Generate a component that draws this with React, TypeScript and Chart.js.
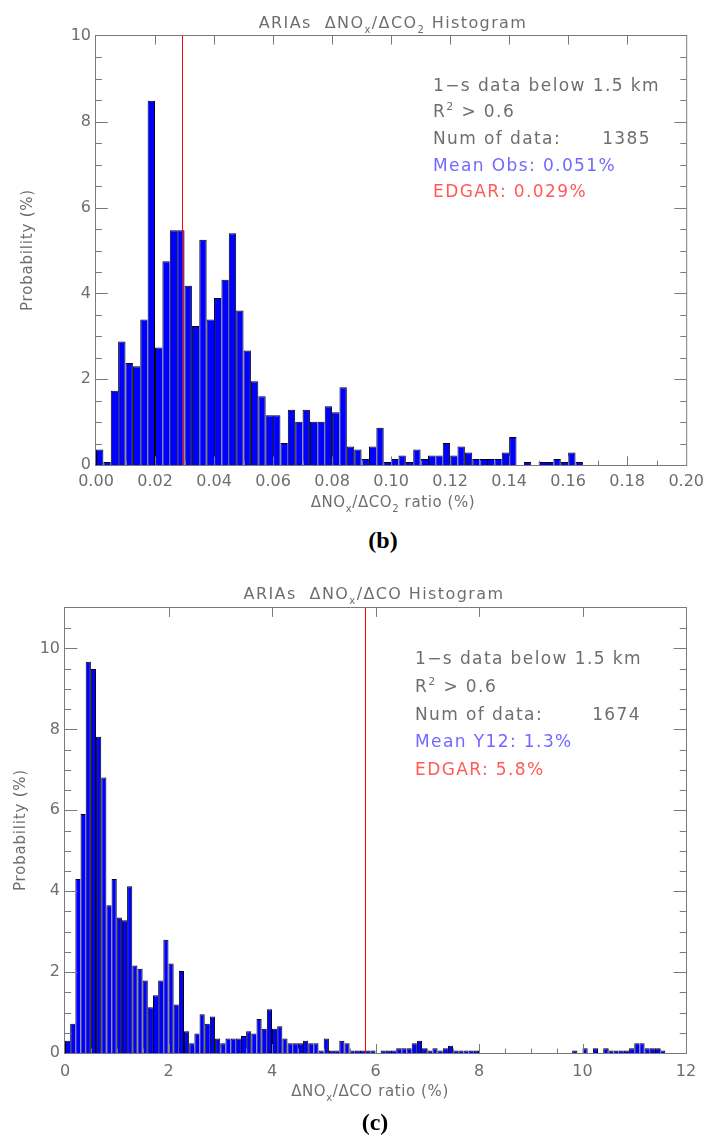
import React, { useEffect, useRef } from 'react';
import { Chart, registerables } from 'chart.js';

Chart.register(...registerables);

// ---------------- Panel (b): ΔNOx/ΔCO2 histogram ----------------
const binWidthCO2 = 0.0025; // ratio (%) per bin
const probabilityCO2 = [
  0.36, 0.07, 1.73, 2.88, 2.38, 2.3, 3.39, 8.49, 2.74, 4.75,
  5.47, 5.47, 4.18, 3.24, 5.25, 3.39, 3.89, 4.32, 5.4, 3.6,
  2.67, 1.95, 1.6, 1.16, 1.16, 0.51, 1.29, 1.01, 1.29, 1.01,
  1.01, 1.37, 1.23, 1.81, 0.43, 0.36, 0.14, 0.43, 0.87, 0.07,
  0.14, 0.22, 0.07, 0.36, 0.14, 0.22, 0.22, 0.51, 0.22, 0.43,
  0.29, 0.14, 0.14, 0.14, 0.14, 0.29, 0.65, 0, 0.07, 0,
  0.07, 0.07, 0.14, 0.07, 0.29, 0.07, 0, 0, 0, 0,
  0, 0, 0, 0, 0, 0, 0, 0, 0, 0,
];
const xTickValuesCO2 = [0, 0.02, 0.04, 0.06, 0.08, 0.1, 0.12, 0.14, 0.16, 0.18, 0.2];
const xTickLabelsCO2 = ['0.00', '0.02', '0.04', '0.06', '0.08', '0.10', '0.12', '0.14', '0.16', '0.18', '0.20'];
const yTickValuesCO2 = [0, 2, 4, 6, 8, 10];
const yTickLabelsCO2 = ['0', '2', '4', '6', '8', '10'];
const edgarCO2 = 0.029;
const statsCO2 = ['1\u2212s data below 1.5 km', 'R|2| > 0.6', 'Num of data:', '1385', 'Mean Obs: 0.051%', 'EDGAR: 0.029%'];

// ---------------- Panel (c): ΔNOx/ΔCO histogram ----------------
const binWidthCO = 0.1; // ratio (%) per bin
const probabilityCO = [
  0.3, 0.72, 4.3, 5.91, 9.67, 9.49, 7.82, 6.81, 3.65, 4.3,
  3.35, 3.28, 4.12, 2.16, 2.08, 1.79, 1.13, 1.43, 1.79, 2.8,
  2.21, 1.2, 2.03, 0.54, 0.24, 0.48, 0.96, 0.72, 0.9, 0.36,
  0.24, 0.36, 0.36, 0.36, 0.42, 0.54, 0.48, 0.84, 0.6, 1.08,
  0.6, 0.66, 0.36, 0.24, 0.24, 0.24, 0.3, 0.24, 0.24, 0.06,
  0.36, 0.06, 0.06, 0.3, 0.24, 0.06, 0.06, 0.06, 0.06, 0.06,
  0, 0.06, 0.06, 0.06, 0.12, 0.12, 0.12, 0.24, 0.3, 0.12,
  0.06, 0.12, 0.06, 0.12, 0.18, 0.06, 0.06, 0.06, 0.06, 0.06,
  0, 0, 0, 0, 0, 0, 0, 0, 0, 0,
  0, 0, 0, 0, 0, 0, 0, 0, 0.06, 0,
  0.12, 0, 0.12, 0, 0.12, 0.06, 0.06, 0.06, 0.06, 0.12,
  0.24, 0.24, 0.12, 0.12, 0.12, 0.06, 0, 0, 0, 0,
];
const xTickValuesCO = [0, 2, 4, 6, 8, 10, 12];
const xTickLabelsCO = ['0', '2', '4', '6', '8', '10', '12'];
const yTickValuesCO = [0, 2, 4, 6, 8, 10];
const yTickLabelsCO = ['0', '2', '4', '6', '8', '10'];
const edgarCO = 5.8;
const statsCO = ['1\u2212s data below 1.5 km', 'R|2| > 0.6', 'Num of data:', '1674', 'Mean Y12: 1.3%', 'EDGAR: 5.8%'];

// ---------------- styles ----------------
const FONT = '"DejaVu Sans", sans-serif';
const TEXT = '#6e6e6e';
const AXIS = '#7a7a7a';
const BLUE_TXT = '#7468ff';
const RED_TXT = '#ff5a5a';

type Seg = { t: string; s?: 'sub' | 'sup' };

function drawRich(ctx: CanvasRenderingContext2D, segs: Seg[], x: number, y: number, size: number,
  align: 'left' | 'center' | 'right', color: string, spacing = 0) {
  ctx.save();
  ctx.fillStyle = color;
  ctx.textAlign = 'left';
  (ctx as any).letterSpacing = spacing + 'px';
  const fontFor = (sg: Seg) => `${sg.s ? Math.round(size * 0.65) : size}px ${FONT}`;
  const widths = segs.map((sg) => { ctx.font = fontFor(sg); return ctx.measureText(sg.t).width; });
  const total = widths.reduce((a, b) => a + b, 0);
  let cx = align === 'left' ? x : align === 'center' ? x - total / 2 : x - total;
  segs.forEach((sg, i) => {
    ctx.font = fontFor(sg);
    const dy = sg.s === 'sub' ? size * 0.3 : sg.s === 'sup' ? -size * 0.4 : 0;
    ctx.fillText(sg.t, cx, y + dy);
    cx += widths[i];
  });
  ctx.restore();
}

// "R|2| > 0.6" -> superscript segments
function parseSup(s: string): Seg[] {
  const parts = s.split('|');
  return parts.map((t, i) => ({ t, s: i % 2 === 1 ? 'sup' : undefined } as Seg));
}

const decoPlugin = {
  id: 'deco',
  afterDatasetsDraw(chart: any, _args: any, o: any) {
    // EDGAR reference line, positioned by the x scale
    const { ctx, chartArea: a, scales } = chart;
    const px = Math.round(scales.x.getPixelForValue(o.edgar)) + 0.5;
    ctx.save();
    ctx.strokeStyle = '#ff0000';
    ctx.lineWidth = 1;
    ctx.beginPath();
    ctx.moveTo(px, scales.y.getPixelForValue(0));
    ctx.lineTo(px, scales.y.getPixelForValue(scales.y.max));
    ctx.stroke();
    ctx.restore();
  },
  afterDraw(chart: any, _args: any, o: any) {
    const { ctx, chartArea: a, scales } = chart;
    const xs = scales.x, ys = scales.y;
    ctx.save();
    ctx.strokeStyle = AXIS;
    ctx.lineWidth = 1;
    ctx.strokeRect(a.left - 0.5, a.top - 0.5, a.right - a.left + 1, a.bottom - a.top + 1);
    const line = (x1: number, y1: number, x2: number, y2: number) => {
      ctx.beginPath(); ctx.moveTo(x1, y1); ctx.lineTo(x2, y2); ctx.stroke();
    };
    const xLen = (a.bottom - a.top) * 0.02;
    const yLen = (a.right - a.left) * 0.02;
    const nx = Math.round((xs.max - xs.min) / o.xMinor);
    for (let i = 1; i < nx; i++) {
      const px = Math.round(xs.getPixelForValue(xs.min + i * o.xMinor)) + 0.5;
      const major = i % o.xPerMajor === 0;
      line(px, a.bottom, px, a.bottom - (major ? xLen : xLen / 2));
      if (major) line(px, a.top, px, a.top + xLen);
    }
    const ny = Math.round((ys.max - ys.min) / o.yMinor);
    for (let i = 1; i < ny; i++) {
      const py = Math.round(ys.getPixelForValue(ys.min + i * o.yMinor)) + 0.5;
      const major = i % o.yPerMajor === 0;
      const len = major ? yLen : yLen / 2;
      line(a.left, py, a.left + len, py);
      line(a.right, py, a.right - len, py);
    }
    ctx.textBaseline = 'alphabetic';
    drawRich(ctx, o.title, o.titleX, o.titleY, 16, 'center', TEXT, 1.4);
    drawRich(ctx, o.xTitle, o.xTitleX, o.xTitleY, 15, 'center', TEXT, 0.6);
    ctx.save();
    ctx.translate(o.yTitleX, o.yTitleY);
    ctx.rotate(-Math.PI / 2);
    ctx.textBaseline = 'middle';
    drawRich(ctx, [{ t: 'Probability (%)' }], 0, 0, 15, 'center', TEXT, 0.8);
    ctx.restore();
    const st: string[] = o.stats;
    const by: number[] = o.statsY;
    drawRich(ctx, parseSup(st[0]), o.statsX, by[0], 17, 'left', TEXT, 1.4);
    drawRich(ctx, parseSup(st[1]), o.statsX, by[1], 17, 'left', TEXT, 1.4);
    drawRich(ctx, parseSup(st[2]), o.statsX, by[2], 17, 'left', TEXT, 1.4);
    drawRich(ctx, parseSup(st[3]), o.numRight, by[2], 17, 'right', TEXT, 1.4);
    drawRich(ctx, parseSup(st[4]), o.statsX, by[3], 17, 'left', BLUE_TXT, 1.4);
    drawRich(ctx, parseSup(st[5]), o.statsX, by[4], 17, 'left', RED_TXT, 1.4);
    ctx.restore();
  },
};

type PanelSpec = {
  binWidth: number;
  values: number[];
  xTicks: number[];
  xLabels: string[];
  yTicks: number[];
  yLabels: string[];
  xMax: number;
  yMax: number;
  canvasTop: number;
  canvasH: number;
  padTop: number;
  padRight: number;
  yAxisW: number;
  xAxisH: number;
  xLabelPad: number;
  deco: any;
};

function HistogramPanel({ spec }: { spec: PanelSpec }) {
  const ref = useRef<HTMLCanvasElement>(null);
  useEffect(() => {
    const s = spec;
    const n = s.values.length;
    const barData = s.values.map((v, i) => ({ x: (i + 0.5) * s.binWidth, y: v > 0 ? v : null }));
    const chart = new Chart(ref.current as HTMLCanvasElement, {
      type: 'bar',
      data: {
        datasets: [
          {
            type: 'bar',
            data: barData as any,
            backgroundColor: '#0000ff',
            borderColor: '#000000',
            borderWidth: ((c: any) => {
              const i = c.dataIndex;
              const cur = s.values[i] || 0;
              const next = i + 1 < n ? s.values[i + 1] || 0 : 0;
              return { top: 1, left: 1, right: next < cur ? 1 : 0, bottom: 0 };
            }) as any,
            borderSkipped: false,
            barPercentage: 1,
            categoryPercentage: 1,
            inflateAmount: 0,
          } as any,
        ],
      },
      options: {
        responsive: false,
        animation: false,
        events: [],
        layout: { padding: { top: s.padTop, right: s.padRight, left: 0, bottom: 0 } },
        plugins: {
          legend: { display: false },
          tooltip: { enabled: false },
          title: { display: false },
          deco: s.deco,
        } as any,
        scales: {
          x: {
            type: 'linear',
            min: 0,
            max: s.xMax,
            offset: false,
            grid: { display: false, drawTicks: false },
            border: { display: false },
            afterBuildTicks: (sc: any) => { sc.ticks = s.xTicks.map((v) => ({ value: v })); },
            afterFit: (sc: any) => { sc.height = s.xAxisH; },
            ticks: {
              autoSkip: false,
              maxRotation: 0,
              padding: s.xLabelPad,
              color: TEXT,
              font: { family: FONT, size: 16 },
              callback: (_v: any, i: number) => s.xLabels[i],
            },
          },
          y: {
            type: 'linear',
            min: 0,
            max: s.yMax,
            grid: { display: false, drawTicks: false },
            border: { display: false },
            afterBuildTicks: (sc: any) => { sc.ticks = s.yTicks.map((v) => ({ value: v })); },
            afterFit: (sc: any) => { sc.width = s.yAxisW; },
            ticks: {
              padding: 5,
              color: TEXT,
              font: { family: FONT, size: 16 },
              callback: (_v: any, i: number) => s.yLabels[i],
            },
          },
        },
      } as any,
      plugins: [decoPlugin as any],
    });
    return () => chart.destroy();
  }, []);
  return (
    <div style={{ position: 'absolute', left: 0, top: spec.canvasTop, width: 711, height: spec.canvasH }}>
      <canvas ref={ref} width={711} height={spec.canvasH} style={{ width: 711, height: spec.canvasH, display: 'block' }} />
    </div>
  );
}

const panelB: PanelSpec = {
  binWidth: binWidthCO2,
  values: probabilityCO2,
  xTicks: xTickValuesCO2,
  xLabels: xTickLabelsCO2,
  yTicks: yTickValuesCO2,
  yLabels: yTickLabelsCO2,
  xMax: 0.2,
  yMax: 10,
  canvasTop: 0,
  canvasH: 520,
  padTop: 36,
  padRight: 17,
  yAxisW: 96,
  xAxisH: 55,
  xLabelPad: 7,
  deco: {
    edgar: edgarCO2,
    xMinor: 0.01, xPerMajor: 2, yMinor: 0.5, yPerMajor: 4,
    title: [{ t: 'ARIAs  \u0394NO' }, { t: 'x', s: 'sub' }, { t: '/\u0394CO' }, { t: '2', s: 'sub' }, { t: ' Histogram' }],
    titleX: 393, titleY: 28,
    xTitle: [{ t: '\u0394NO' }, { t: 'x', s: 'sub' }, { t: '/\u0394CO' }, { t: '2', s: 'sub' }, { t: ' ratio (%)' }],
    xTitleX: 393, xTitleY: 507,
    yTitleX: 28, yTitleY: 250,
    stats: statsCO2, statsX: 433, statsY: [91, 117, 144, 171, 197], numRight: 651,
  },
};

const panelC: PanelSpec = {
  binWidth: binWidthCO,
  values: probabilityCO,
  xTicks: xTickValuesCO,
  xLabels: xTickLabelsCO,
  yTicks: yTickValuesCO,
  yLabels: yTickLabelsCO,
  xMax: 12,
  yMax: 11,
  canvasTop: 570,
  canvasH: 540,
  padTop: 38,
  padRight: 25,
  yAxisW: 65,
  xAxisH: 57,
  xLabelPad: 9,
  deco: {
    edgar: edgarCO,
    xMinor: 0.5, xPerMajor: 4, yMinor: 0.5, yPerMajor: 4,
    title: [{ t: 'ARIAs  \u0394NO' }, { t: 'x', s: 'sub' }, { t: '/\u0394CO Histogram' }],
    titleX: 374, titleY: 29,
    xTitle: [{ t: '\u0394NO' }, { t: 'x', s: 'sub' }, { t: '/\u0394CO ratio (%)' }],
    xTitleX: 370, xTitleY: 526,
    yTitleX: 21, yTitleY: 260,
    stats: statsCO, statsX: 415, statsY: [94, 122, 150, 177, 205], numRight: 641,
  },
};

const captionStyle: React.CSSProperties = {
  position: 'absolute',
  fontFamily: '"Liberation Serif", serif',
  fontWeight: 'bold',
  fontSize: 24,
  color: '#000',
  transform: 'translate(-50%, -50%)',
  whiteSpace: 'nowrap',
};

export default function App() {
  return (
    <div style={{ position: 'absolute', left: 0, top: 0, width: 711, height: 1142, background: '#fff' }}>
      <HistogramPanel spec={panelB} />
      <div style={{ ...captionStyle, left: 383, top: 540 }}>(b)</div>
      <HistogramPanel spec={panelC} />
      <div style={{ ...captionStyle, left: 375, top: 1122 }}>(c)</div>
    </div>
  );
}
